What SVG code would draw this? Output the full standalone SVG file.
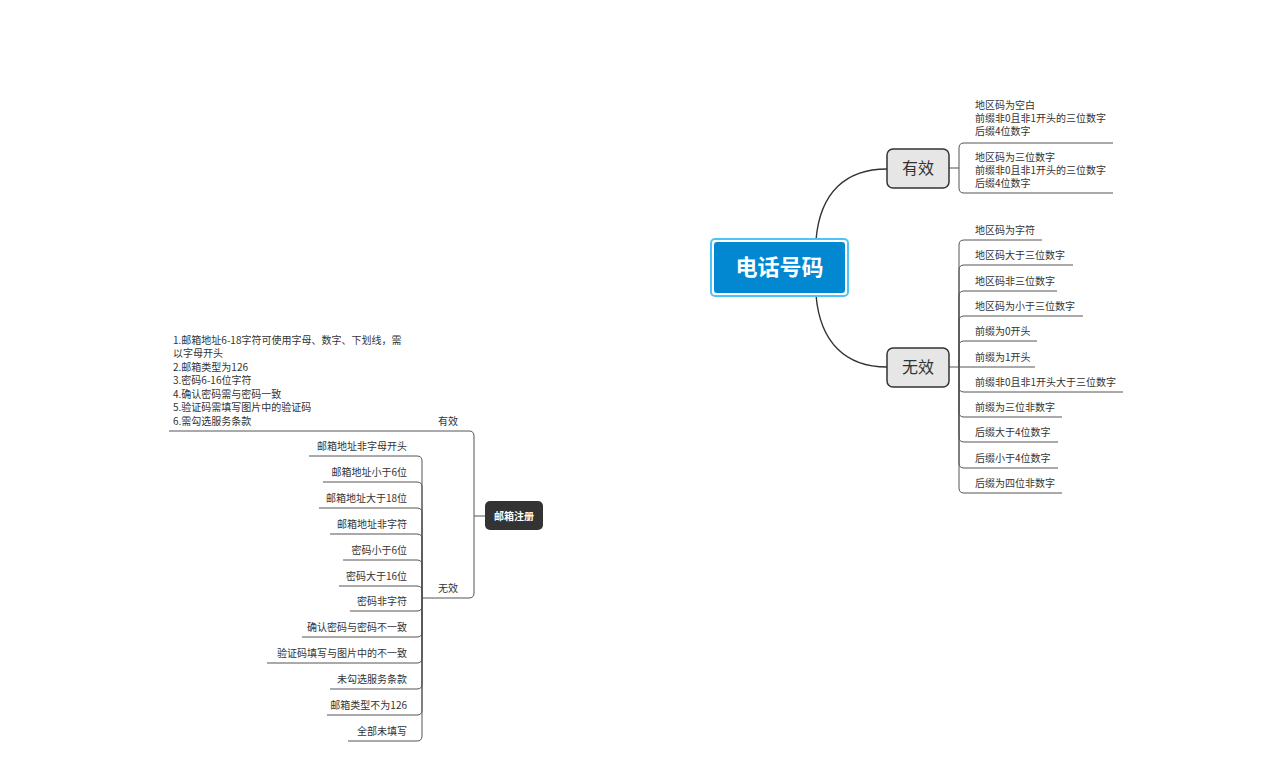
<svg xmlns="http://www.w3.org/2000/svg" width="1288" height="761" viewBox="0 0 1288 761">
<style>
text{font-family:"Noto Sans CJK SC","Noto Sans",sans-serif;fill:#333}
.t{font-size:10px}
.te{font-size:10px;text-anchor:end}
.br{fill:none;stroke:#555;stroke-width:1}
.main{fill:none;stroke:#333;stroke-width:1.4}
.sub{fill:#e6e6e6;stroke:#333;stroke-width:1.5}
</style>
<rect width="1288" height="761" fill="#fff"/>
<g id="connectors">
<path class="main" d="M816 240 C820 192 846 169 887 169"/>
<path class="main" d="M816 295 C820 343 846 367 887 367"/>
<path class="br" d="M949 168 H959 M959 168 V148 Q959 143 964 143 H1113 M959 168 V188 Q959 193 964 193 H1113"/>
<path class="br" d="M949 367 H1035 M959 367 V245 Q959 240 964 240 H1042 M959 367 V270 Q959 265 964 265 H1073 M959 367 V296 Q959 291 964 291 H1057 M959 367 V321 Q959 316 964 316 H1083 M959 367 V346 Q959 341 964 341 H1037 M959 367 V387 Q959 392 964 392 H1123 M959 367 V412 Q959 417 964 417 H1062 M959 367 V437 Q959 442 964 442 H1058 M959 367 V463 Q959 468 964 468 H1058 M959 367 V488 Q959 493 964 493 H1062"/>
<path class="br" d="M485 516 H474 M474 516 V436 Q474 431 469 431 H169 M474 516 V593 Q474 598 469 598 H422"/>
<path class="br" d="M422 598 V461 Q422 456 417 456 H309 M422 598 V487 Q422 482 417 482 H323 M422 598 V513 Q422 508 417 508 H319 M422 598 V539 Q422 534 417 534 H330 M422 598 V565 Q422 560 417 560 H343 M422 598 V591 Q422 586 417 586 H339 M422 598 V606 Q422 611 417 611 H350 M422 598 V632 Q422 637 417 637 H302 M422 598 V658 Q422 663 417 663 H267 M422 598 V684 Q422 689 417 689 H330 M422 598 V710 Q422 715 417 715 H327 M422 598 V736 Q422 741 417 741 H348"/>
</g>
<g id="n-center">
<rect x="711" y="239" width="137" height="57" rx="4" fill="#fff" stroke="#4fc3f7" stroke-width="2"/>
<rect x="714" y="242" width="131" height="51" rx="3" fill="#0288d1"/>
<text x="779.5" y="275" text-anchor="middle" style="font-size:22px;font-weight:bold;fill:#fff">电话号码</text>
</g>
<g id="n-valid">
<rect class="sub" x="887" y="149" width="62" height="39" rx="6"/>
<text x="918" y="174" text-anchor="middle" style="font-size:16px">有效</text>
</g>
<g id="n-invalid">
<rect class="sub" x="887" y="348" width="62" height="39" rx="6"/>
<text x="918" y="373" text-anchor="middle" style="font-size:16px">无效</text>
</g>
<g id="n-valid-1">
<text class="t" x="975" y="108.5">地区码为空白</text>
<text class="t" x="975" y="121.5">前缀非0且非1开头的三位数字</text>
<text class="t" x="975" y="134.5">后缀4位数字</text>
</g>
<g id="n-valid-2">
<text class="t" x="975" y="160.5">地区码为三位数字</text>
<text class="t" x="975" y="173.5">前缀非0且非1开头的三位数字</text>
<text class="t" x="975" y="186.5">后缀4位数字</text>
</g>
<g id="n-invalid-items">
<text class="t" x="975" y="233.5">地区码为字符</text>
<text class="t" x="975" y="258.5">地区码大于三位数字</text>
<text class="t" x="975" y="284.5">地区码非三位数字</text>
<text class="t" x="975" y="309.5">地区码为小于三位数字</text>
<text class="t" x="975" y="334.5">前缀为0开头</text>
<text class="t" x="975" y="360.5">前缀为1开头</text>
<text class="t" x="975" y="385.5">前缀非0且非1开头大于三位数字</text>
<text class="t" x="975" y="410.5">前缀为三位非数字</text>
<text class="t" x="975" y="435.5">后缀大于4位数字</text>
<text class="t" x="975" y="461.5">后缀小于4位数字</text>
<text class="t" x="975" y="486.5">后缀为四位非数字</text>
</g>
<g id="n-email">
<rect x="485" y="501" width="58" height="29" rx="5" fill="#333"/>
<text x="514" y="519.5" text-anchor="middle" style="font-size:10px;font-weight:bold;fill:#fff">邮箱注册</text>
</g>
<g id="n-email-valid">
<text class="t" x="438" y="425">有效</text>
</g>
<g id="n-email-valid-text">
<text class="t" x="173" y="343.5">1.邮箱地址6-18字符可使用字母、数字、下划线，需</text>
<text class="t" x="173" y="357">以字母开头</text>
<text class="t" x="173" y="370.5">2.邮箱类型为126</text>
<text class="t" x="173" y="384">3.密码6-16位字符</text>
<text class="t" x="173" y="397.5">4.确认密码需与密码一致</text>
<text class="t" x="173" y="411">5.验证码需填写图片中的验证码</text>
<text class="t" x="173" y="424.5">6.需勾选服务条款</text>
</g>
<g id="n-email-invalid">
<text class="t" x="438" y="592">无效</text>
</g>
<g id="n-email-invalid-items">
<text class="te" x="407" y="449.5">邮箱地址非字母开头</text>
<text class="te" x="407" y="475.5">邮箱地址小于6位</text>
<text class="te" x="407" y="501.5">邮箱地址大于18位</text>
<text class="te" x="407" y="527.5">邮箱地址非字符</text>
<text class="te" x="407" y="553.5">密码小于6位</text>
<text class="te" x="407" y="579.5">密码大于16位</text>
<text class="te" x="407" y="604.5">密码非字符</text>
<text class="te" x="407" y="630.5">确认密码与密码不一致</text>
<text class="te" x="407" y="656.5">验证码填写与图片中的不一致</text>
<text class="te" x="407" y="682.5">未勾选服务条款</text>
<text class="te" x="407" y="708.5">邮箱类型不为126</text>
<text class="te" x="407" y="734.5">全部未填写</text>
</g>
</svg>
